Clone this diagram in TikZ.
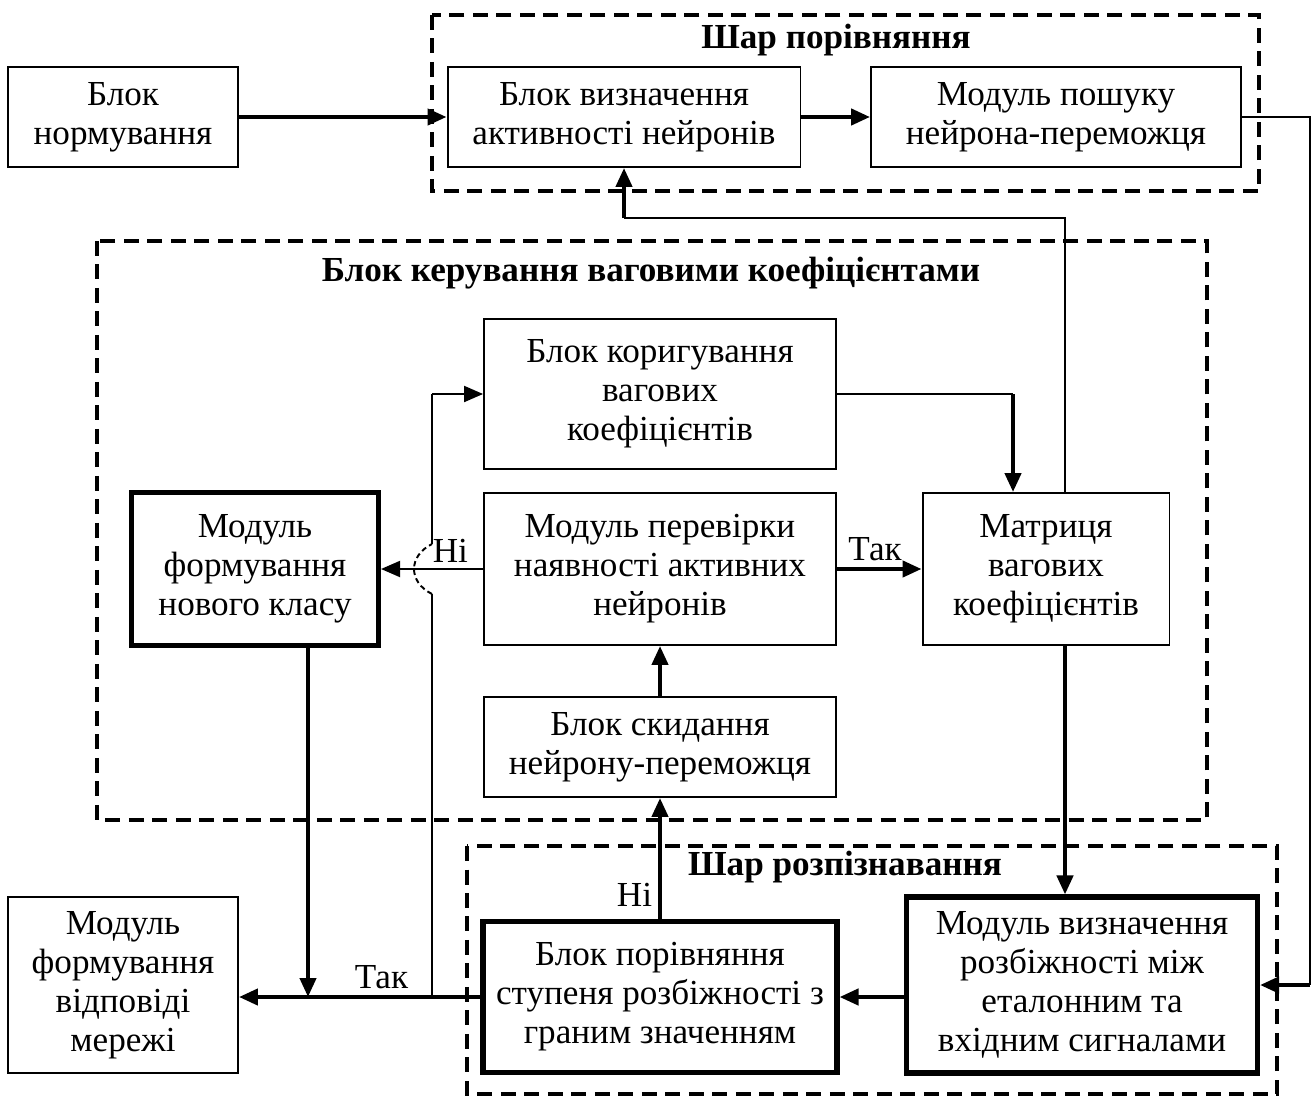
\documentclass[tikz,border=0pt]{standalone}
\usepackage{fontspec}
\setmainfont{Liberation Serif}
\usetikzlibrary{arrows.meta,positioning}

\begin{document}
\begin{tikzpicture}[
  x=0.02cm, y=-0.02cm,
  font=\fontsize{20}{22.2}\selectfont,
  >={Triangle[length=0.38cm,width=0.32cm]},
  box/.style={rectangle, draw, line width=1.1pt, align=center, inner sep=0pt},
  boldbox/.style={box, line width=2.9pt},
  group/.style={draw, line width=2.1pt, dash pattern=on 0.3cm off 0.17cm},
  title/.style={font=\fontsize{20}{22.2}\selectfont\bfseries},
  thinline/.style={line width=1.1pt},
  arrow/.style={->, line width=2.4pt},
  hop/.style={line width=1.1pt, densely dashed}
]
  \useasboundingbox (0,0) rectangle (1314,1098);

  % Шар порівняння
  \draw[group] (432,15) rectangle (1259,191);
  \node[title] (tporivn) at (836,40) {Шар порівняння};
  \node[box, minimum width=4.6cm, minimum height=2cm] (norm) at (123,117) {Блок\\нормування};
  \node[box, minimum width=7.06cm, minimum height=2cm] (vyzn) at (624,117) {Блок визначення\\активності нейронів};
  \node[box, minimum width=7.4cm, minimum height=2cm] (poshuk) at (1056,117) {Модуль пошуку\\нейрона-переможця};

  % Блок керування ваговими коефіцієнтами
  \draw[group] (97,241) rectangle (1207,820);
  \node[title] (tkeruv) at (651,273) {Блок керування ваговими коефіцієнтами};
  \node[box, minimum width=7.04cm, minimum height=3cm] (korig) at (660,394) {Блок коригування\\вагових\\коефіцієнтів};
  \node[boldbox, minimum width=4.94cm, minimum height=3.06cm] (nklas) at (255,569) {Модуль\\формування\\нового класу};
  \node[box, minimum width=7.04cm, minimum height=3.04cm] (perev) at (660,569) {Модуль перевірки\\наявності активних\\нейронів};
  \node[box, minimum width=4.94cm, minimum height=3.04cm] (matr) at (1046,569) {Матриця\\вагових\\коефіцієнтів};
  \node[box, minimum width=7.04cm, minimum height=2cm] (skyd) at (660,747) {Блок скидання\\нейрону-переможця};

  % Шар розпізнавання
  \draw[group] (467,846) rectangle (1277,1094);
  \node[title] (trozp) at (845,867) {Шар розпізнавання};
  \node[boldbox, minimum width=7.08cm, minimum height=3.02cm] (porivn) at (660,997) {Блок порівняння\\ступеня розбіжності з\\граним значенням};
  \node[boldbox, minimum width=7.02cm, minimum height=3.52cm] (rozb) at (1082,985) {Модуль визначення\\розбіжності між\\еталонним та\\вхідним сигналами};
  \node[box, minimum width=4.6cm, minimum height=3.52cm] (vidp) at (123,985) {Модуль\\формування\\відповіді\\мережі};

  % Допоміжні точки
  \coordinate (mx) at (1065,0);
  \coordinate (kx) at (1013,0);
  \coordinate (nx) at (308,0);
  \coordinate (tx) at (432,0);
  \coordinate (rx) at (1310,0);
  \coordinate (ux) at (624,218);

  % Стрілки
  \draw[arrow] (norm) -- (vyzn);
  \draw[arrow] (vyzn) -- (poshuk);
  \draw[thinline] (poshuk.east) -| (rx |- rozb.east);
  \draw[arrow] (rx |- rozb.east) -- (rozb.east);
  \draw[thinline] (korig.east) -- (korig.east -| kx);
  \draw[arrow] (korig.east -| kx) -- (matr.north -| kx);
  \draw[thinline] (matr.north -| mx) |- (ux);
  \draw[arrow] (ux) -- (vyzn.south);
  \draw[->, thinline] (perev.west) -- node[above, pos=0.32] (ni1) {Ні} (nklas.east);
  \draw[arrow] (perev.east) -- node[above, pos=0.45] (tak1) {Так} (matr.west);
  \draw[arrow] (skyd.north) -- (perev.south);
  \draw[arrow] (matr.south -| mx) -- (rozb.north -| mx);
  \draw[arrow] (porivn.north) -- node[left, pos=0.2] (ni2) {Ні} (skyd.south);
  \draw[arrow] (rozb.west |- porivn.east) -- (porivn.east);
  \draw[arrow] (porivn.west) -- node[above, pos=0.41] (tak2) {Так} (vidp.east |- porivn.west);
  \draw[arrow] (nklas.south -| nx) -- (nx |- porivn.west);

  % Лінія до блоку коригування з обходом
  \draw[thinline] (tx |- porivn.west) -- (432,594);
  \draw[hop] (432,594) .. controls (408,582) and (408,556) .. (432,544);
  \draw[thinline] (432,544) -- (tx |- korig.west);
  \draw[->, thinline] (tx |- korig.west) -- (korig.west);
\end{tikzpicture}
\end{document}
